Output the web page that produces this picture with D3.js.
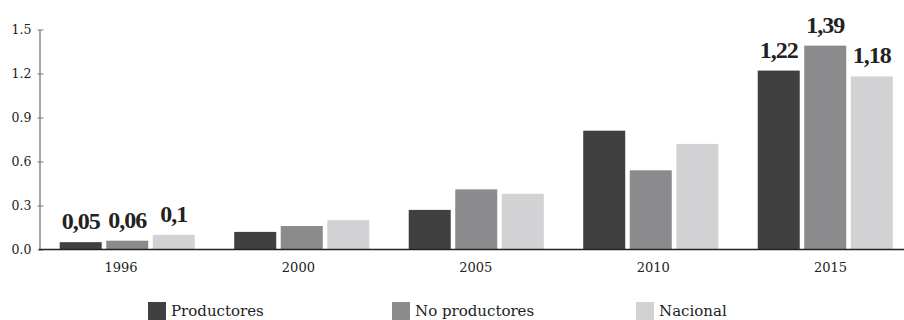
<!DOCTYPE html>
<html><head><meta charset="utf-8">
<script src="https://cdn.jsdelivr.net/npm/d3@7"></script>
<style>body{margin:0;background:#fff;}svg{display:block;}</style>
</head><body><svg id="c" width="904" height="320"></svg>
<script>
const years = ["1996","2000","2005","2010","2015"];
const seriesNames = ["Productores","No productores","Nacional"];
const productores = [0.05, 0.12, 0.27, 0.81, 1.22];
const noProductores = [0.06, 0.16, 0.41, 0.54, 1.39];
const nacional = [0.10, 0.20, 0.38, 0.72, 1.18];
const yTicks = [0, 0.3, 0.6, 0.9, 1.2, 1.5];
const labelledYears = ["1996","2015"];
const labelText = {
  "1996": ["0,05","0,06","0,1"],
  "2015": ["1,22","1,39","1,18"]
};
const colors = ["#404040","#8b8b8e","#d2d2d4"];
const seriesValues = [productores, noProductores, nacional];

const svg = d3.select("#c");
const mLeft = 40, mBottom = 249.5, mTop = 29.5;
const y = d3.scaleLinear().domain([0,1.5]).range([mBottom, mTop]);
const x0 = d3.scaleBand().domain(years).range([mLeft, 912.5]).paddingInner(0.226).paddingOuter(0.113);
const x1 = d3.scaleBand().domain(seriesNames).range([0, x0.bandwidth()]).paddingInner(0.097).paddingOuter(0);
const xLab = d3.scaleBand().domain(years).range([32.3, 919.3]);

// bars
years.forEach((yr, i) => {
  const g = svg.append("g").attr("transform", `translate(${x0(yr)},0)`);
  seriesNames.forEach((s, j) => {
    const v = seriesValues[j][i];
    g.append("rect").attr("x", x1(s)).attr("width", x1.bandwidth())
      .attr("y", y(v)).attr("height", y(0) - y(v)).attr("fill", colors[j]);
    if (labelledYears.includes(yr)) {
      g.append("text").attr("x", x1(s) + x1.bandwidth()/2).attr("y", y(v) - 13)
        .attr("text-anchor","middle")
        .style("font-family","'Liberation Serif', serif").style("font-weight","bold")
        .style("font-size","24px").style("letter-spacing","-1px").attr("fill","#222")
        .text(labelText[yr][j]);
    }
  });
});

// y axis
const ya = svg.append("g").attr("transform", `translate(${mLeft - 0.5},0)`)
  .call(d3.axisLeft(y).tickValues(yTicks).tickFormat(d3.format(".1f")).tickSize(0).tickPadding(8));
ya.select(".domain").attr("stroke","#888").attr("stroke-width",1.5);
ya.selectAll(".tick line").attr("x1",-2).attr("x2",4).attr("stroke","#777");
ya.selectAll(".tick text").style("font-family","'DejaVu Serif', serif").style("font-size","12.5px").attr("fill","#222");

// x axis
const xa = svg.append("g").attr("transform", `translate(0,${mBottom})`)
  .call(d3.axisBottom(xLab).tickSize(0).tickPadding(13));
xa.select(".domain").remove();
xa.append("line").attr("x1", mLeft - 1).attr("x2", 904).attr("y1", 0).attr("y2", 0)
  .attr("stroke","#222").attr("stroke-width",1.3);
xa.selectAll(".tick text").style("font-family","'DejaVu Serif', serif").style("font-size","13px").attr("fill","#222");

// legend
const legX = d3.scaleOrdinal().domain(seriesNames).range([148, 392, 636]);
seriesNames.forEach((s, j) => {
  svg.append("rect").attr("x", legX(s)).attr("y", 302).attr("width", 18).attr("height", 18).attr("fill", colors[j]);
  svg.append("text").attr("x", legX(s) + 23).attr("y", 316)
    .style("font-family","'DejaVu Serif', serif").style("font-size","15px").attr("fill","#222").text(s);
});
</script></body></html>
